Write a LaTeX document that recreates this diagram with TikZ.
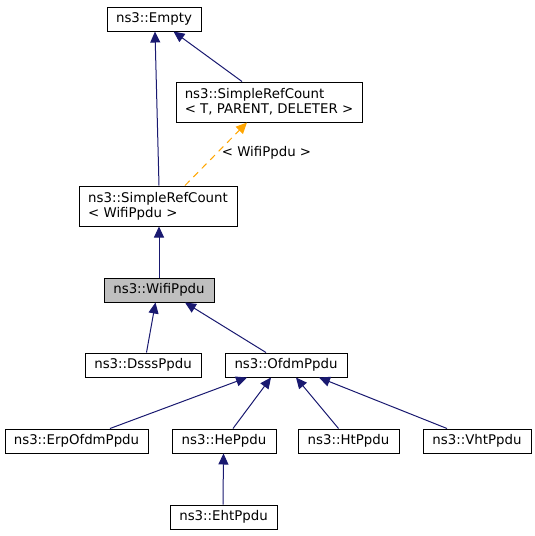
\documentclass[tikz,border=0pt]{standalone}
\usepackage{fontspec}
\setmainfont{DejaVu Sans}
\usetikzlibrary{arrows.meta,calc}
\definecolor{edgeblue}{HTML}{191970}
\definecolor{dashorange}{HTML}{FFA500}
\begin{document}
\begin{tikzpicture}[x=0.75pt,y=-0.75pt,
  every node/.style={font=\fontsize{10}{11.25}\selectfont},
  cls/.style={draw=black,line width=0.75pt,fill=white,inner sep=0pt,align=left},
  cur/.style={cls,fill=black!25},
  edge/.style={draw=edgeblue,line width=0.75pt,-{Triangle[length=8.25pt,width=7.5pt]}},
  tmpl/.style={draw=dashorange,line width=0.75pt,dash pattern=on 5pt off 4pt,-{Triangle[length=8.25pt,width=7.5pt]}},
  lbl/.style={inner sep=0pt}]
\useasboundingbox (0,0) rectangle (535,536);
% nodes
\node[cls,minimum width=70.5pt,minimum height=18pt] (empty) at (154,19) {ns3::Empty};
\node[cls,minimum width=139.5pt,minimum height=30pt] (srctpd) at (269,102) {ns3::SimpleRefCount\\< T, PARENT, DELETER >};
\node[cls,minimum width=118.5pt,minimum height=30pt] (srcw) at (158,206) {ns3::SimpleRefCount\\< WifiPpdu >};
\node[cur,minimum width=82.5pt,minimum height=18pt] (wifi) at (159,290) {ns3::WifiPpdu};
\node[cls,minimum width=87pt,minimum height=18pt] (dsss) at (143,365) {ns3::DsssPpdu};
\node[cls,minimum width=91.5pt,minimum height=18pt] (ofdm) at (286,365) {ns3::OfdmPpdu};
\node[cls,minimum width=107.25pt,minimum height=18pt] (erp) at (76.5,441) {ns3::ErpOfdmPpdu};
\node[cls,minimum width=78pt,minimum height=18pt] (he) at (224,441) {ns3::HePpdu};
\node[cls,minimum width=75.75pt,minimum height=18pt] (ht) at (348.5,441) {ns3::HtPpdu};
\node[cls,minimum width=81pt,minimum height=18pt] (vht) at (477,441) {ns3::VhtPpdu};
\node[cls,minimum width=80.25pt,minimum height=18pt] (eht) at (223.5,517) {ns3::EhtPpdu};
\node[lbl] (tlabel) at (266.5,153) {< WifiPpdu >};
% edges
\draw[edge] ($(srcw.north)+(1,0)$) -- ($(empty.south)+(1,0)$);
\draw[edge] ($(srctpd.north)+(-27,0)$) -- ($(empty.south)+(19.5,0)$);
\draw[tmpl] ($(srcw.north)+(27,0)$) -- ($(srctpd.south)+(-22,0)$);
\draw[edge] ($(wifi.north)+(0,0)$) -- ($(srcw.south)+(1,0)$);
\draw[edge] ($(dsss.north)+(3.5,0)$) -- ($(wifi.south)+(-3.5,0)$);
\draw[edge] ($(ofdm.north)+(-20,0)$) -- ($(wifi.south)+(26,0)$);
\draw[edge] ($(erp.north)+(33.5,0)$) -- ($(ofdm.south)+(-39,0)$);
\draw[edge] ($(he.north)+(9,0)$) -- ($(ofdm.south)+(-15,0)$);
\draw[edge] ($(ht.north)+(-10,0)$) -- ($(ofdm.south)+(10,0)$);
\draw[edge] ($(vht.north)+(-30,0)$) -- ($(ofdm.south)+(33,0)$);
\draw[edge] ($(eht.north)+(-0.5,0)$) -- ($(he.south)+(-0.5,0)$);
\end{tikzpicture}
\end{document}
